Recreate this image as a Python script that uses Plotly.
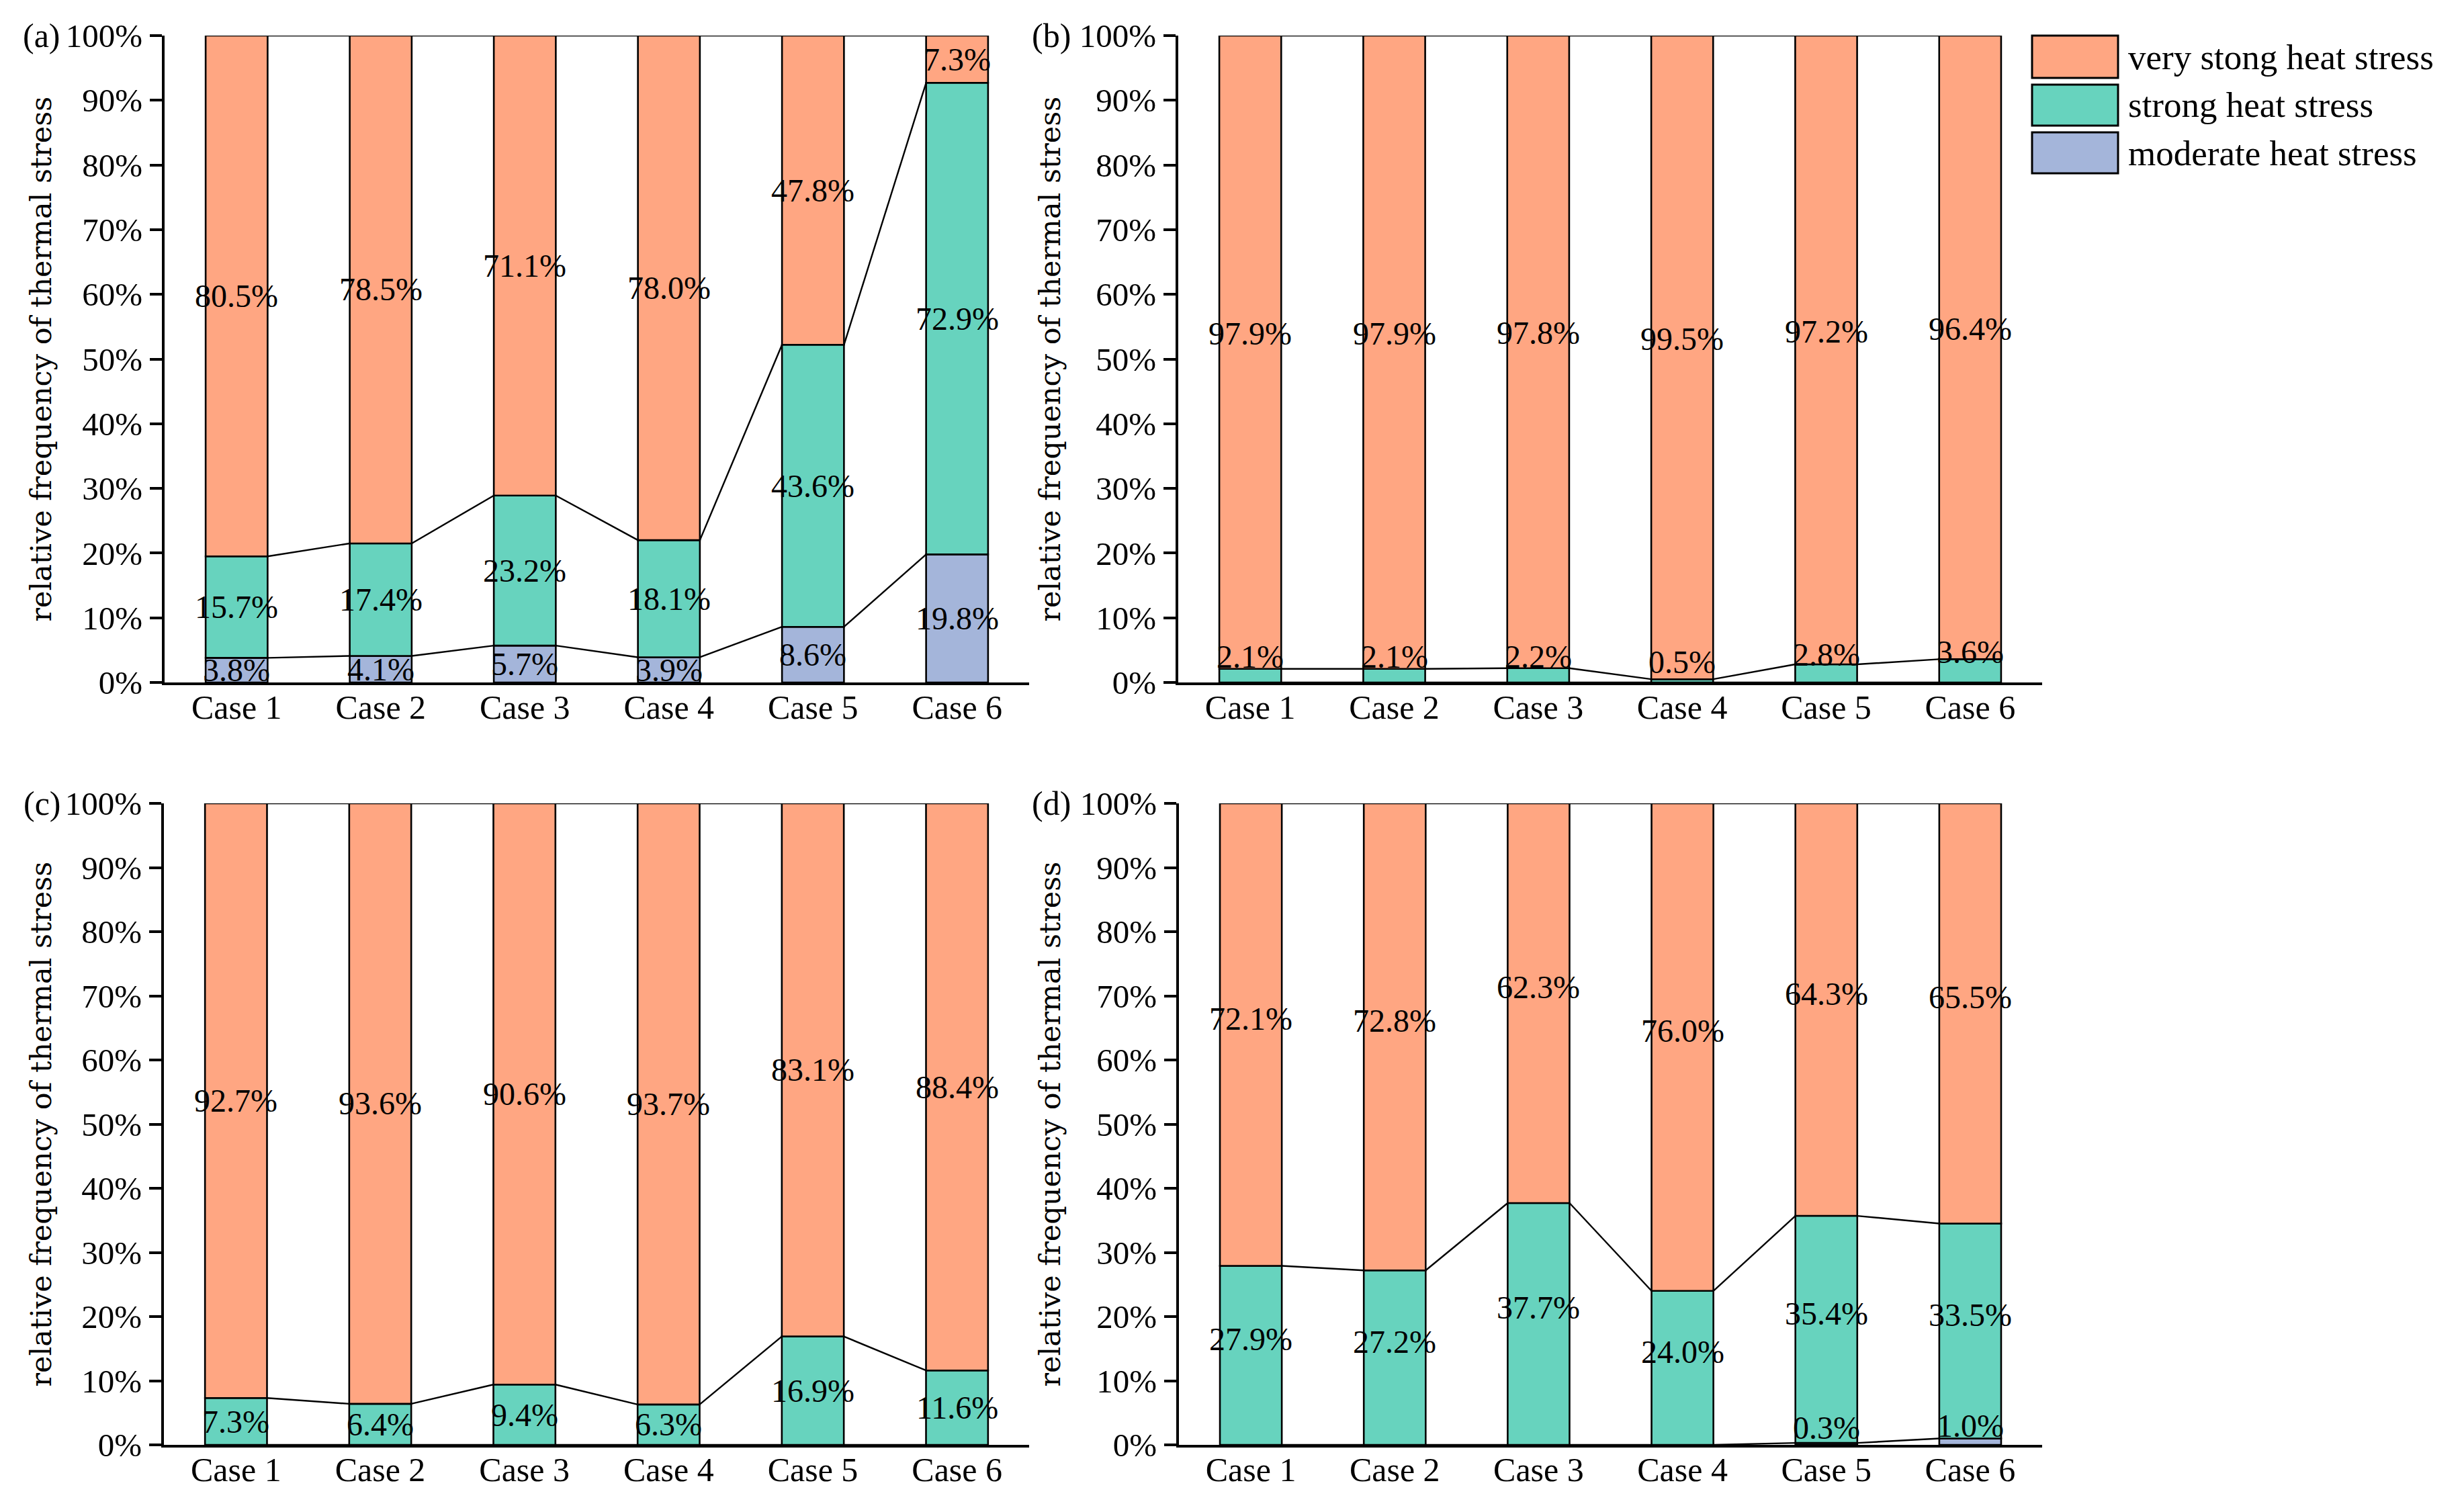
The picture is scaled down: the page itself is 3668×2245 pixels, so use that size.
import plotly.graph_objects as go

W, H = 3668, 2245
OFF = 8  # page body margin in the browser (px)

cases = ["Case 1", "Case 2", "Case 3", "Case 4", "Case 5", "Case 6"]
series_names = ["very stong heat stress", "strong heat stress", "moderate heat stress"]
y_tick_values = [0, 10, 20, 30, 40, 50, 60, 70, 80, 90, 100]
y_tick_labels = ["0%", "10%", "20%", "30%", "40%", "50%", "60%", "70%", "80%", "90%", "100%"]
panel_labels = ["(a)", "(b)", "(c)", "(d)"]
y_title = "relative frequency of thermal stress"

# values in percent, per panel
a_moderate = [3.8, 4.1, 5.7, 3.9, 8.6, 19.8]
a_strong = [15.7, 17.4, 23.2, 18.1, 43.6, 72.9]
a_very = [80.5, 78.5, 71.1, 78.0, 47.8, 7.3]

b_moderate = [0, 0, 0, 0, 0, 0]
b_strong = [2.1, 2.1, 2.2, 0.5, 2.8, 3.6]
b_very = [97.9, 97.9, 97.8, 99.5, 97.2, 96.4]

c_moderate = [0, 0, 0, 0, 0, 0]
c_strong = [7.3, 6.4, 9.4, 6.3, 16.9, 11.6]
c_very = [92.7, 93.6, 90.6, 93.7, 83.1, 88.4]

d_moderate = [0, 0, 0, 0, 0.3, 1.0]
d_strong = [27.9, 27.2, 37.7, 24.0, 35.4, 33.5]
d_very = [72.1, 72.8, 62.3, 76.0, 64.3, 65.5]

panels = [
    (a_moderate, a_strong, a_very),
    (b_moderate, b_strong, b_very),
    (c_moderate, c_strong, c_very),
    (d_moderate, d_strong, d_very),
]

col_very = "#FFA682"
col_strong = "#67D3BE"
col_mod = "#A4B5DA"
colors = [col_very, col_strong, col_mod]

SERIF = "Liberation Serif"
TITLE_FONT = "DejaVu Serif"


def px_x(p):
    return (p - OFF) / W


def px_y(p):
    return 1 - (p - OFF) / H


# layout geometry (pixels in the target picture)
x_px = [(245, 1532), (1754, 3040), (244, 1532), (1755, 3040)]
y_px = [(53, 1016), (53, 1016), (1196, 2151), (1196, 2151)]
label_shift = [0, 28, 0, 24]
title_x_px = [60, 1562, 60, 1562]
plabel_x_px = [62, 1565, 63, 1565]

BW = 0.43
xs = list(range(len(cases)))

fig = go.Figure()
annotations = []
shapes = []

for k, (mod, strong, very) in enumerate(panels):
    xa = "x" if k == 0 else f"x{k+1}"
    ya = "y" if k == 0 else f"y{k+1}"
    stacks = [(mod, col_mod, series_names[2]), (strong, col_strong, series_names[1]), (very, col_very, series_names[0])]
    base = [0.0] * len(cases)
    levels = []
    for vals, col, name in stacks:
        fig.add_trace(go.Bar(
            x=xs, y=vals, base=base, width=BW, marker=dict(color=col, line=dict(color="black", width=2.6)),
            name=name, showlegend=False, xaxis=xa, yaxis=ya, hoverinfo="skip",
        ))
        for i, v in enumerate(vals):
            if v > 0:
                annotations.append(dict(
                    x=xs[i], y=base[i] + v / 2, xref=xa, yref=ya, text=f"{v:.1f}%",
                    showarrow=False, yshift=label_shift[k], xanchor="center", yanchor="middle",
                    font=dict(family=SERIF, size=48, color="black"),
                ))
        base = [b + v for b, v in zip(base, vals)]
        levels.append(list(base))
    # series lines between bars
    for lev in levels:
        lx, ly = [], []
        for i in range(len(cases) - 1):
            lx += [xs[i] + BW / 2, xs[i + 1] - BW / 2, None]
            ly += [lev[i], lev[i + 1], None]
        fig.add_trace(go.Scatter(x=lx, y=ly, mode="lines", line=dict(color="black", width=2.4),
                                 showlegend=False, xaxis=xa, yaxis=ya, hoverinfo="skip"))

    x0, x1 = x_px[k]
    yt, yb = y_px[k]
    dom_x = [px_x(x0), px_x(x1)]
    dom_y = [px_y(yb), px_y(yt)]
    xkey = "xaxis" if k == 0 else f"xaxis{k+1}"
    ykey = "yaxis" if k == 0 else f"yaxis{k+1}"
    fig.layout[xkey] = dict(
        domain=dom_x, range=[-0.5, 5.5], tickvals=xs, ticktext=cases, anchor=ya,
        showline=True, linecolor="black", linewidth=4, ticks="", showgrid=False, zeroline=False,
        ticklabelstandoff=-10,
        tickfont=dict(family=SERIF, size=50, color="black"), fixedrange=True, automargin=False,
    )
    fig.layout[ykey] = dict(
        domain=dom_y, range=[0, 100], tickvals=y_tick_values, ticktext=y_tick_labels, anchor=xa,
        showline=True, linecolor="black", linewidth=4, ticks="outside", ticklen=18, tickwidth=4,
        tickcolor="black", showgrid=False, zeroline=False, ticklabelstandoff=1,
        tickfont=dict(family=SERIF, size=49, color="black"), fixedrange=True, automargin=False,
    )
    annotations.append(dict(
        x=px_x(title_x_px[k]), y=(dom_y[0] + dom_y[1]) / 2, xref="paper", yref="paper",
        text=y_title, textangle=-90, showarrow=False, xanchor="center", yanchor="middle",
        font=dict(family=TITLE_FONT, size=43, color="black"),
    ))
    annotations.append(dict(
        x=px_x(plabel_x_px[k]), y=px_y(yt), xref="paper", yref="paper", text=panel_labels[k],
        showarrow=False, xanchor="center", yanchor="middle",
        font=dict(family=SERIF, size=50, color="black"),
    ))

# legend
leg_boxes = [(53, 116), (126, 187), (197, 258)]
for (t, b), col, name in zip(leg_boxes, colors, series_names):
    shapes.append(dict(type="rect", xref="paper", yref="paper", x0=px_x(3025), x1=px_x(3153),
                       y0=px_y(b), y1=px_y(t), fillcolor=col, line=dict(color="black", width=3)))
    annotations.append(dict(x=px_x(3166), y=px_y((t + b) / 2), xref="paper", yref="paper", text=name,
                            xanchor="left", yanchor="middle", showarrow=False,
                            font=dict(family=SERIF, size=53, color="black")))

fig.update_layout(
    width=W, height=H, autosize=False, barmode="overlay",
    margin=dict(l=0, r=0, t=0, b=0, autoexpand=False), paper_bgcolor="white", plot_bgcolor="white",
    annotations=annotations, shapes=shapes, showlegend=False,
)

fig.write_html("out.html")
